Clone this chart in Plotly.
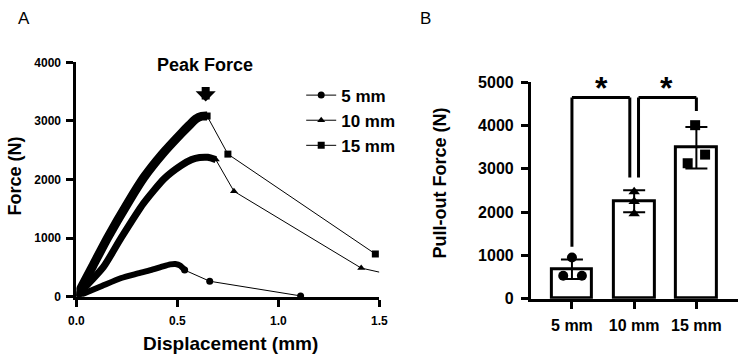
import plotly.graph_objects as go

# ---------------- Panel A data (force vs displacement) ----------------
# dense (loading) part of each curve
load5_x = [0.00, 0.04, 0.126, 0.222, 0.30, 0.367, 0.42, 0.464, 0.49, 0.515, 0.536]
load5_y = [0, 60, 184, 320, 395, 455, 510, 553, 560, 530, 455]
load10_x = [0.00, 0.04, 0.134, 0.222, 0.332, 0.435, 0.52, 0.57, 0.61, 0.65, 0.69]
load10_y = [0, 150, 509, 1008, 1593, 2016, 2244, 2340, 2375, 2379, 2340]
load15_x = [0.00, 0.08, 0.155, 0.258, 0.335, 0.424, 0.52, 0.56, 0.59, 0.62, 0.647]
load15_y = [0, 520, 1010, 1620, 2040, 2430, 2790, 2930, 3030, 3080, 3084]
# sparse (failure) part of each curve
tail5_x = [0.536, 0.66, 1.11]
tail5_y = [455, 265, 15]
tail10_x = [0.69, 0.78, 1.41]
tail10_y = [2340, 1800, 490]
end10_x = [1.41, 1.50]
end10_y = [490, 420]
tail15_x = [0.647, 0.75, 1.48]
tail15_y = [3084, 2434, 730]
series_names = ["5 mm", "10 mm", "15 mm"]

# ---------------- Panel B data (pull-out force) ----------------
groups = ["5 mm", "10 mm", "15 mm"]
bar_mean = [680, 2250, 3490]
bar_sd = [225, 255, 480]
pts5 = [950, 530, 530]
pts10 = [2470, 2245, 1960]
pts15 = [4010, 3330, 3130]
jit5 = [0.0, -0.14, 0.16]
jit10 = [0.0, 0.0, 0.0]
jit15 = [-0.02, 0.14, -0.14]

W, H = 750, 362
FONT = "Liberation Sans, Arial, sans-serif"

def px(x):
    return x / W

def py(y):
    return 1 - y / H

fig = go.Figure()

symbols = ["circle", "triangle-up", "square"]
loads = [(load5_x, load5_y, 6), (load10_x, load10_y, 7), (load15_x, load15_y, 9)]
tails = [(tail5_x, tail5_y), (tail10_x, tail10_y), (tail15_x, tail15_y)]

for (lx, ly, lw) in loads:
    fig.add_trace(go.Scatter(x=lx, y=ly, mode="lines",
                             line=dict(color="black", width=lw, shape="spline", smoothing=0.6),
                             showlegend=False, cliponaxis=False, xaxis="x", yaxis="y",
                             hoverinfo="skip"))
for i, (tx, ty) in enumerate(tails):
    fig.add_trace(go.Scatter(x=tx, y=ty, mode="lines+markers", name=series_names[i],
                             line=dict(color="black", width=1),
                             marker=dict(symbol=symbols[i], size=7, color="black"),
                             showlegend=True, cliponaxis=False, xaxis="x", yaxis="y"))
fig.add_trace(go.Scatter(x=end10_x, y=end10_y, mode="lines", line=dict(color="black", width=1),
                         showlegend=False, cliponaxis=False, xaxis="x", yaxis="y"))

# Panel B bars
fig.add_trace(go.Bar(x=[0, 1, 2], y=bar_mean, width=0.65,
                     marker=dict(color="white", line=dict(color="black", width=3)),
                     error_y=dict(type="data", array=bar_sd, visible=True, color="black",
                                  thickness=2, width=11),
                     showlegend=False, xaxis="x2", yaxis="y2"))
for gi, (pts, jit, sym) in enumerate([(pts5, jit5, "circle"), (pts10, jit10, "triangle-up"),
                                       (pts15, jit15, "square")]):
    fig.add_trace(go.Scatter(x=[gi + j for j in jit], y=pts, mode="markers",
                             marker=dict(symbol=sym, size=10, color="black"),
                             showlegend=False, cliponaxis=False, xaxis="x2", yaxis="y2"))

axis_common = dict(showline=True, linecolor="black", linewidth=3, ticks="outside",
                   ticklen=7, tickwidth=3, tickcolor="black", showgrid=False, zeroline=False)
fontA = dict(family=FONT, size=12, color="black", weight="bold")
fontB = dict(family=FONT, size=16, color="black", weight="bold")

fig.update_layout(
    width=W, height=H, margin=dict(l=0, r=0, t=0, b=0),
    paper_bgcolor="white", plot_bgcolor="white",
    xaxis=dict(domain=[px(70), px(380)], range=[0, 1.5], tickvals=[0, 0.5, 1.0, 1.5],
               ticktext=["0.0", "0.5", "1.0", "1.5"], anchor="y", tickfont=fontA,
               ticklabelstandoff=4, **axis_common),
    yaxis=dict(domain=[py(303), py(57)], range=[0, 4000], tickvals=[0, 1000, 2000, 3000, 4000],
               anchor="x", tickfont=fontA, ticklabelstandoff=3, **axis_common),
    xaxis2=dict(domain=[px(535), px(747)], range=[-0.66, 2.67], tickvals=[0, 1, 2],
                ticktext=groups, anchor="y2", tickfont=fontB, ticklabelstandoff=3, **axis_common),
    yaxis2=dict(domain=[py(305), py(78)], range=[0, 5000],
                tickvals=[0, 1000, 2000, 3000, 4000, 5000], anchor="x2", tickfont=fontB,
                ticklabelstandoff=4, **axis_common),
    legend=dict(x=px(300), y=py(73), xanchor="left", yanchor="top",
                font=dict(family=FONT, size=17, color="black", weight="bold"),
                bgcolor="rgba(0,0,0,0)", itemwidth=30),
    showlegend=True,
    bargap=0,
)

# significance brackets (panel B)
br = dict(type="line", xref="x2", yref="y2", line=dict(color="black", width=3))
for (x0, y0, x1, y1) in [(0, 1200, 0, 4650), (0, 4650, 0.93, 4650), (0.93, 4650, 0.93, 2800),
                         (1.07, 2800, 1.07, 4650), (1.07, 4650, 2, 4650), (2, 4650, 2, 4340)]:
    fig.add_shape(x0=x0, y0=y0, x1=x1, y1=y1, **br)

ann = []
ann.append(dict(text="A", x=px(8), y=py(11), xref="paper", yref="paper", showarrow=False,
                xanchor="left", yanchor="middle", font=dict(family=FONT, size=17, color="black")))
ann.append(dict(text="B", x=px(420), y=py(11), xref="paper", yref="paper", showarrow=False,
                xanchor="left", yanchor="middle", font=dict(family=FONT, size=17, color="black")))
ann.append(dict(text="Peak Force", x=px(202), y=py(60), xref="paper", yref="paper",
                showarrow=False, xanchor="center", yanchor="middle",
                font=dict(family=FONT, size=18, color="black", weight="bold")))
ann.append(dict(text="", x=0.64, y=(303 - 98) / 0.0615, xref="x", yref="y", showarrow=True,
                ax=0, ay=-16, arrowhead=1, arrowwidth=8, arrowsize=0.42, arrowcolor="black"))
ann.append(dict(text="Force (N)", x=px(7), y=py(176), xref="paper", yref="paper",
                showarrow=False, textangle=-90, xanchor="center", yanchor="middle",
                font=dict(family=FONT, size=18, color="black", weight="bold")))
ann.append(dict(text="Displacement (mm)", x=px(228), y=py(352), xref="paper", yref="paper",
                showarrow=False, xanchor="center", yanchor="middle",
                font=dict(family=FONT, size=19, color="black", weight="bold")))
ann.append(dict(text="Pull-out Force (N)", x=px(442), y=py(183), xref="paper", yref="paper",
                showarrow=False, textangle=-90, xanchor="center", yanchor="middle",
                font=dict(family=FONT, size=18, color="black", weight="bold")))
for xa in [0.47, 1.52]:
    ann.append(dict(text="*", x=xa, y=4880, xref="x2", yref="y2", showarrow=False,
                    xanchor="center", yanchor="middle",
                    font=dict(family=FONT, size=32, color="black", weight="bold")))
fig.update_layout(annotations=ann)

fig.write_html("out.html")
